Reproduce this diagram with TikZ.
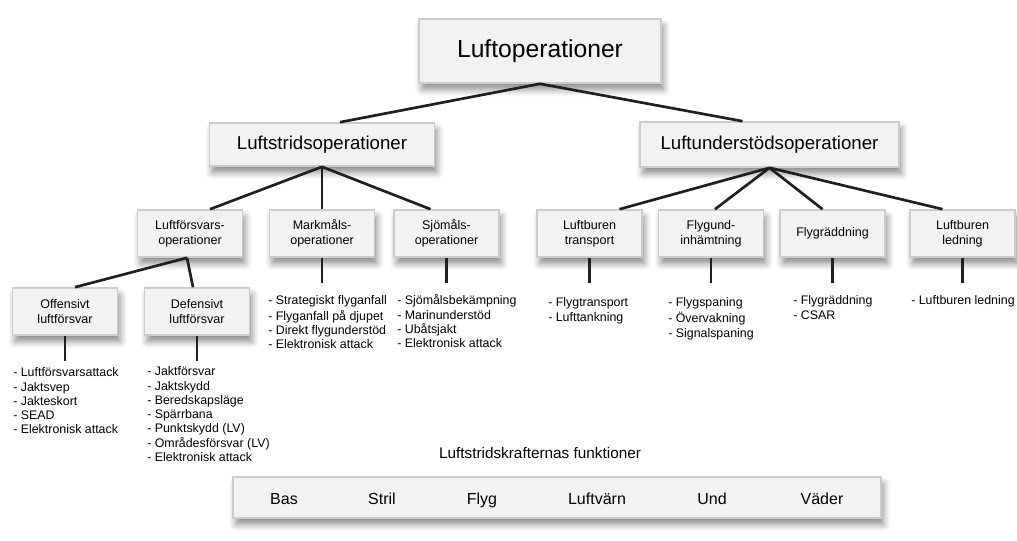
\documentclass[tikz,border=0pt]{standalone}
\usepackage{fontspec}
\setmainfont{Liberation Sans}
\usetikzlibrary{calc,shadows.blur}
\tikzset{%
        box/.style = { draw=gray!40, line width=1.2pt, fill=gray!10, align=center, inner sep=2pt,
                       blur shadow={shadow xshift=2pt, shadow yshift=-5pt, shadow blur radius=5pt, shadow opacity=45} },
      small/.style = { box, minimum width=105*.75pt, minimum height=47*.75pt, font=\fontsize{9.4}{11.2}\selectfont },
       conn/.style = { draw=black!88, line width=2pt },
       list/.style = { anchor=north west, align=left, inner sep=0pt, font=\fontsize{9.3}{10.7}\selectfont },
    funklbl/.style = { anchor=base, font=\fontsize{12}{14}\selectfont }
}
\begin{document}
\begin{tikzpicture}[x=0.75pt,y=-0.75pt]
\useasboundingbox (0,0) rectangle (1017,541);
% boxes
\node[box, minimum width=242*.75pt, minimum height=64*.75pt, font=\fontsize{18.5}{20}\selectfont] (luftop) at (540,51) {Luftoperationer};
\node[box, minimum width=225*.75pt, minimum height=43*.75pt, font=\fontsize{14}{16}\selectfont] (strid) at (322,144.5) {Luftstridsoperationer};
\node[box, minimum width=259*.75pt, minimum height=45*.75pt, font=\fontsize{14}{16}\selectfont] (stod) at (769.5,144.5) {Luftunderstödsoperationer};
\node[small] (fors)   at (190,233.5)   {Luftförsvars-\\operationer};
\node[small] (mark)   at (322,233.5)   {Markmåls-\\operationer};
\node[small] (sjo)    at (446.5,233.5) {Sjömåls-\\operationer};
\node[small] (transp) at (589.5,233.5) {Luftburen\\transport};
\node[small] (inh)    at (711,233.5)   {Flygund-\\inhämtning};
\node[small] (radd)   at (832.5,233.5) {Flygräddning};
\node[small] (ledn)   at (962.5,233.5) {Luftburen\\ledning};
\node[small] (off)    at (65,311.5)    {Offensivt\\luftförsvar};
\node[small] (def)    at (197,311.5)   {Defensivt\\luftförsvar};
% connectors
\draw[conn] (luftop.south) -- ($(strid.north)+(18,0)$);
\draw[conn] (luftop.south) -- ($(stod.north)+(-27,0)$);
\draw[conn] (strid.south) -- ($(fors.north)+(20,0)$);
\draw[conn] (strid.south) -- (mark.north);
\draw[conn] (strid.south) -- ($(sjo.north)+(-16,0)$);
\draw[conn] (stod.south) -- ($(transp.north)+(30,0)$);
\draw[conn] (stod.south) -- ($(inh.north)+(4,0)$);
\draw[conn] (stod.south) -- ($(radd.north)+(-10,0)$);
\draw[conn] (stod.south) -- ($(ledn.north)+(-20,0)$);
\draw[conn] ($(fors.south)+(-3,0)$) -- ($(off.north)+(10,0)$);
\draw[conn] ($(fors.south)+(-3,0)$) -- ($(def.north)+(-4,0)$);
\foreach \n in {off,def,mark,sjo,transp,inh,radd,ledn}
  \draw[conn] (\n.south) -- ++(0,25);
% lists
\node[list] (offlist) at (13,366.5) {\strut- Luftförsvarsattack\\- Jaktsvep\\- Jakteskort\\- SEAD\\- Elektronisk attack};
\node[list] (deflist) at (147,365.5) {\strut- Jaktförsvar\\- Jaktskydd\\- Beredskapsläge\\- Spärrbana\\- Punktskydd (LV)\\- Områdesförsvar (LV)\\- Elektronisk attack};
\node[list] (marklist) at (268,294.5) {\strut- Strategiskt flyganfall\\- Flyganfall på djupet\\- Direkt flygunderstöd\\- Elektronisk attack};
\node[list] (sjolist) at (397,294.5) {\strut- Sjömålsbekämpning\\- Marinunderstöd\\- Ubåtsjakt\\- Elektronisk attack};
\node[list] (transplist) at (548,296.5) {\strut- Flygtransport\\- Lufttankning};
\node[list] (inhlist) at (668,296.5) {\strut- Flygspaning\\- Övervakning\\- Signalspaning};
\node[list] (raddlist) at (793,294.5) {\strut- Flygräddning\\- CSAR};
\node[list] (lednlist) at (911,294.5) {\strut- Luftburen ledning};
% funktioner
\node[font=\fontsize{11.5}{13}\selectfont] (funktitel) at (540,453) {Luftstridskrafternas funktioner};
\node[box, minimum width=648*.75pt, minimum height=41*.75pt] (funk) at (557,497.5) {};
\foreach \name/\x in {Bas/284,Stril/382,Flyg/482,Luftvärn/597,Und/712,Väder/822}
  \node[funklbl] (f\x) at (\x,504) {\name};
\end{tikzpicture}
\end{document}
